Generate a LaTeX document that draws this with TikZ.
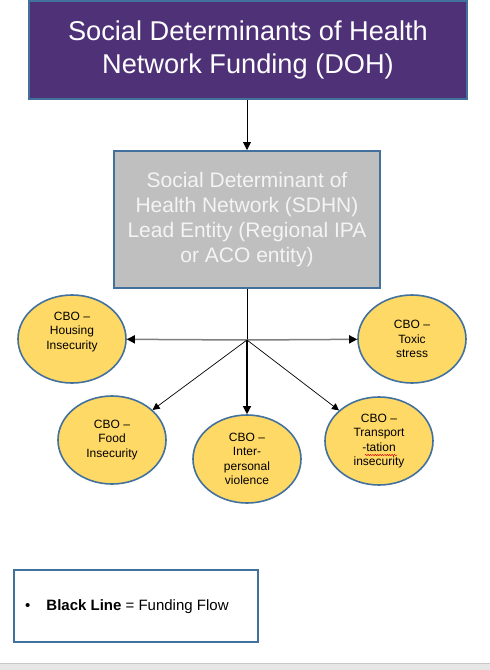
\documentclass[tikz,border=0pt]{standalone}
\usepackage{fontspec}
\setmainfont{Liberation Sans}
\usetikzlibrary{shapes.geometric,arrows.meta,decorations.pathmorphing}
\definecolor{frameblue}{HTML}{41719C}
\definecolor{titlepurple}{HTML}{4F3178}
\definecolor{leadgray}{HTML}{BFBFBF}
\definecolor{leadtext}{HTML}{F4F4F4}
\definecolor{cboyellow}{HTML}{FFD966}
\definecolor{linegray}{HTML}{7F7F7F}
\definecolor{bandgray}{HTML}{E6E6E6}
\definecolor{bandline}{HTML}{C8C8C8}
\begin{document}
\begin{tikzpicture}[x=1pt,y=-1pt,
  titlebox/.style={draw=frameblue, line width=2pt, fill=titlepurple, text=white,
    align=center, font=\fontsize{27.2}{33}\selectfont,
    minimum width=438pt, minimum height=98pt, inner sep=0pt},
  leadbox/.style={draw=frameblue, line width=2pt, fill=leadgray, text=leadtext,
    align=center, font=\fontsize{21}{25}\selectfont,
    minimum width=266pt, minimum height=137pt, inner sep=0pt},
  cbo/.style={ellipse, draw=frameblue, line width=1.6pt, fill=cboyellow,
    minimum width=108pt, minimum height=88pt, inner sep=0pt},
  cbotext/.style={align=center, font=\fontsize{12}{14.3}\selectfont, inner sep=0pt},
  legendbox/.style={draw=frameblue, line width=2pt, fill=white,
    minimum width=244pt, minimum height=72pt, inner sep=0pt},
  flow/.style={draw=black, line width=0.8pt, -{Triangle[length=8pt,width=8pt]}},
  thinflow/.style={draw=black, line width=0.7pt, -{Triangle[length=7pt,width=7pt]}},
  grayflow/.style={draw=linegray, line width=1.5pt, -{Triangle[length=8pt,width=8pt,color=black,fill=black]}},
  midflow/.style={draw=black, line width=1.2pt, -{Triangle[length=8pt,width=8pt]}}
]
\useasboundingbox (0,0) rectangle (490,670);
\fill[white] (0,0) rectangle (490,670);

% bottom band
\fill[bandgray] (0,663) rectangle (490,670);
\draw[bandline, line width=1pt] (0,663) -- (490,663);

% title box
\node[titlebox] (title) at (248,50) {Social Determinants of Health\\Network Funding (DOH)};

% lead entity box
\node[leadbox] (lead) at (247,219.5) {Social Determinant of\\Health Network (SDHN)\\Lead Entity (Regional IPA\\or ACO entity)};

\draw[flow] (title.south -| lead.north) -- (lead.north);

% hub
\coordinate (hub) at (247,340);
\draw[black, line width=1pt] (lead.south) -- (hub);

% CBO ellipses
\node[cbo] (housing) at (72,339) {};
\node[cbotext] (housingtext) at (72,332) {CBO –\\Housing\\Insecurity};
\node[cbo, cbotext] (toxic) at (412,339) {CBO –\\Toxic\\stress};
\node[cbo, cbotext] (food) at (112,440) {CBO –\\Food\\Insecurity};
\node[cbo, cbotext] (inter) at (247,459) {CBO –\\Inter-\\personal\\violence};
\node[cbo, cbotext] (transport) at (379,441) {CBO –\\Transport\\-tation\\insecurity};

% spell-check underline
\draw[red!85!black, line width=0.5pt, decorate,
  decoration={snake, amplitude=0.6pt, segment length=2.4pt}] (365,455) -- (397,455);

% connectors
\draw[grayflow] (hub) -- (housing);
\draw[grayflow] (hub) -- (toxic);
\draw[thinflow] (hub) -- (food);
\draw[midflow] (hub) -- (inter);
\draw[thinflow] (hub) -- (transport);

% legend
\node[legendbox] (legend) at (136,606) {};
\node[anchor=west, inner sep=0pt, font=\fontsize{15}{18}\selectfont] (legendtext) at (25,607)
  {•\hspace{16pt}\textbf{Black Line} = Funding Flow};
\end{tikzpicture}
\end{document}
